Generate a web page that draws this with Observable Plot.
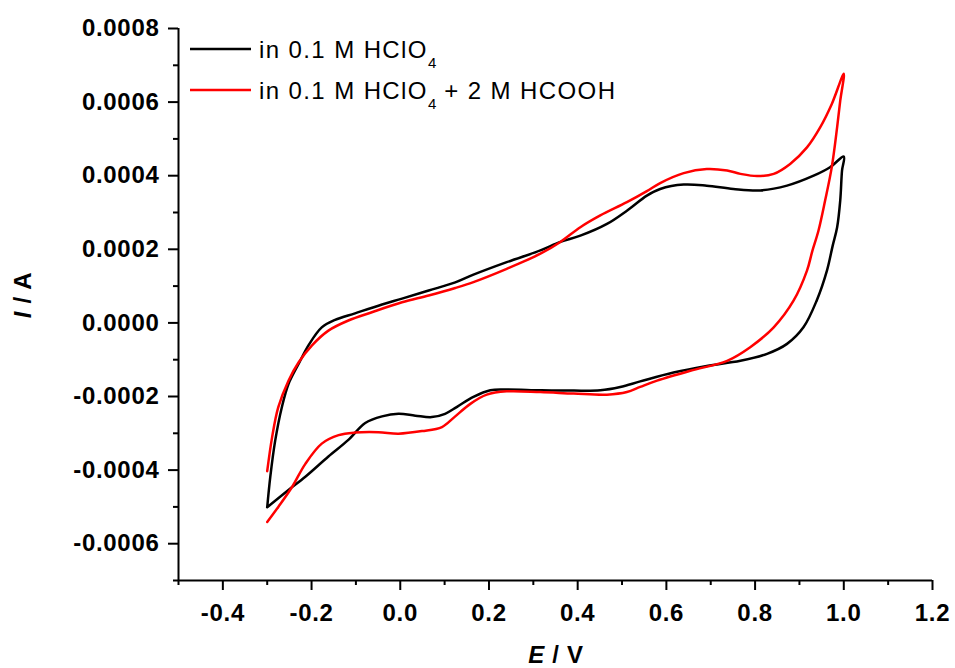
<!DOCTYPE html>
<html><head><meta charset="utf-8">
<script src="https://cdn.jsdelivr.net/npm/d3@7"></script>
<script src="https://cdn.jsdelivr.net/npm/@observablehq/plot@0.6"></script>
<style>html,body{margin:0;padding:0;background:#fff}svg{display:block}</style>
</head><body><div id="chart"></div>
<script>
// Black: in 0.1 M HClO4 (anodic sweep then cathodic sweep)
const blackE = [-0.300,-0.293,-0.282,-0.267,-0.252,-0.229,-0.207,-0.177,-0.147,-0.102,-0.041,0.004,0.064,0.124,0.165,0.240,0.316,0.361,0.406,0.466,0.511,0.556,0.586,0.639,0.691,0.751,0.812,0.872,0.932,0.969,1.000,
  0.996,0.992,0.985,0.975,0.962,0.939,0.909,0.872,0.827,0.767,0.691,0.616,0.541,0.496,0.451,0.391,0.316,0.240,0.203,0.165,0.128,0.101,0.071,0.034,-0.004,-0.041,-0.079,-0.117,-0.162,-0.214,-0.252,-0.300];
const blackI = [-0.000501,-0.000418,-0.000320,-0.000229,-0.000166,-0.000111,-0.000061,-0.000012,0.000008,0.000026,0.000050,0.000066,0.000088,0.000110,0.000131,0.000165,0.000197,0.000220,0.000237,0.000269,0.000305,0.000346,0.000364,0.000376,0.000373,0.000364,0.000360,0.000373,0.000400,0.000423,0.000452,
  0.000414,0.000333,0.000260,0.000210,0.000142,0.000061,-0.000012,-0.000057,-0.000084,-0.000103,-0.000117,-0.000135,-0.000159,-0.000174,-0.000183,-0.000184,-0.000183,-0.000181,-0.000183,-0.000201,-0.000228,-0.000247,-0.000256,-0.000252,-0.000247,-0.000254,-0.000272,-0.000318,-0.000363,-0.000418,-0.000454,-0.000501];
// Red: in 0.1 M HClO4 + 2 M HCOOH
const redE = [-0.300,-0.289,-0.275,-0.252,-0.229,-0.199,-0.162,-0.117,-0.064,0.004,0.064,0.124,0.165,0.240,0.316,0.361,0.406,0.451,0.511,0.556,0.586,0.639,0.691,0.737,0.767,0.804,0.842,0.879,0.917,0.947,0.973,1.000,
  0.992,0.985,0.973,0.958,0.943,0.929,0.917,0.887,0.842,0.789,0.737,0.654,0.579,0.541,0.511,0.466,0.391,0.316,0.240,0.195,0.158,0.122,0.094,0.049,-0.004,-0.049,-0.102,-0.139,-0.177,-0.214,-0.244,-0.275,-0.300];
const redI = [-0.000403,-0.000311,-0.000229,-0.000157,-0.000107,-0.000061,-0.000021,0.0000065,0.000029,0.000056,0.0000745,0.000095,0.000111,0.000147,0.000188,0.000220,0.000260,0.000292,0.000328,0.000358,0.000380,0.000407,0.000418,0.000414,0.000405,0.000399,0.000405,0.000432,0.000477,0.000532,0.000595,0.000677,
  0.000604,0.000532,0.000424,0.000333,0.000251,0.000195,0.000142,0.000061,-0.000012,-0.000066,-0.000103,-0.000130,-0.000157,-0.000174,-0.000188,-0.000195,-0.000192,-0.000188,-0.000186,-0.000195,-0.000220,-0.000256,-0.000283,-0.000294,-0.000301,-0.000297,-0.000298,-0.000305,-0.000328,-0.000383,-0.000446,-0.000500,-0.000541];

const xMajor = [-0.4,-0.2,0.0,0.2,0.4,0.6,0.8,1.0,1.2];
const xMinor = [-0.5,-0.3,-0.1,0.1,0.3,0.5,0.7,0.9,1.1];
const yMajor = [-0.0006,-0.0004,-0.0002,0,0.0002,0.0004,0.0006,0.0008];
const yMinor = [-0.0007,-0.0005,-0.0003,-0.0001,0.0001,0.0003,0.0005,0.0007];
const xDomain = [-0.5, 1.2];
const yDomain = [-0.0007, 0.0008];
const seriesColors = ["#000000", "#ff0000"];

const blackRows = blackE.map((e, i) => ({E: e, I: blackI[i]}));
const redRows = redE.map((e, i) => ({E: e, I: redI[i]}));

const fontFam = "'Liberation Sans', Arial, Helvetica, sans-serif";

const chart = Plot.plot({
  width: 955, height: 668,
  marginLeft: 178, marginRight: 23, marginTop: 28, marginBottom: 88,
  x: {domain: xDomain, label: null},
  y: {domain: yDomain, label: null},
  style: {fontFamily: fontFam, fontSize: "24px", fontWeight: "bold", background: "#fff", color: "#000", overflow: "visible"},
  marks: [
    Plot.axisX(xMinor, {tickSize: 5, tickFormat: () => "", strokeWidth: 2, label: null}),
    Plot.axisX(xMajor, {tickSize: 10, tickPadding: 13, tickFormat: d => d.toFixed(1), strokeWidth: 2, label: null, fontSize: 24, fontWeight: "bold"}),
    Plot.axisY(yMinor, {tickSize: 5, tickFormat: () => "", strokeWidth: 2, label: null}),
    Plot.axisY(yMajor, {tickSize: 10, tickPadding: 9, tickFormat: d => d.toFixed(4), strokeWidth: 2, label: null, fontSize: 24, fontWeight: "bold"}),
    Plot.ruleX([xDomain[0]], {strokeWidth: 2}),
    Plot.ruleY([yDomain[0]], {strokeWidth: 2}),
    Plot.line(blackRows, {x: "E", y: "I", stroke: seriesColors[0], strokeWidth: 2.5, curve: "catmull-rom"}),
    Plot.line(redRows, {x: "E", y: "I", stroke: seriesColors[1], strokeWidth: 2.5, curve: "catmull-rom"})
  ]
});

const svg = d3.select(chart);
svg.selectAll("text").attr("letter-spacing", "0.7px");

// Axis titles
const yt = svg.append("text")
  .attr("transform", "translate(31,295) rotate(-90)")
  .attr("text-anchor", "middle")
  .attr("font-family", fontFam).attr("font-size", 24).attr("font-weight", "bold")
  .attr("letter-spacing", "0.7px");
yt.append("tspan").attr("font-style", "italic").text("I");
yt.append("tspan").text(" / A");

const xt = svg.append("text")
  .attr("x", 556).attr("y", 663)
  .attr("text-anchor", "middle")
  .attr("font-family", fontFam).attr("font-size", 24).attr("font-weight", "bold")
  .attr("letter-spacing", "0.7px");
xt.append("tspan").attr("font-style", "italic").text("E");
xt.append("tspan").text(" / V");

// Legend
const leg = svg.append("g").attr("font-family", fontFam).attr("font-weight", "normal").attr("text-anchor", "start");
const legendItems = [
  {color: seriesColors[0], y: 49, main: "in 0.1 M HClO", sub: "4", tail: ""},
  {color: seriesColors[1], y: 90, main: "in 0.1 M HClO", sub: "4", tail: " + 2 M HCOOH"}
];
legendItems.forEach(it => {
  leg.append("line").attr("x1", 190).attr("x2", 251).attr("y1", it.y).attr("y2", it.y)
    .attr("stroke", it.color).attr("stroke-width", 2.5);
  const t = leg.append("text").attr("x", 259).attr("y", it.y + 8.5).attr("text-anchor", "start")
    .attr("font-size", 24).attr("letter-spacing", "1.4px").attr("fill", "#000");
  t.append("tspan").text(it.main);
  t.append("tspan").attr("font-size", 15).attr("dy", 10).attr("letter-spacing", "0px").text(it.sub);
  if (it.tail) t.append("tspan").attr("dy", -10).attr("font-size", 24).text(it.tail);
});

document.getElementById("chart").appendChild(chart);
</script>
</body></html>
